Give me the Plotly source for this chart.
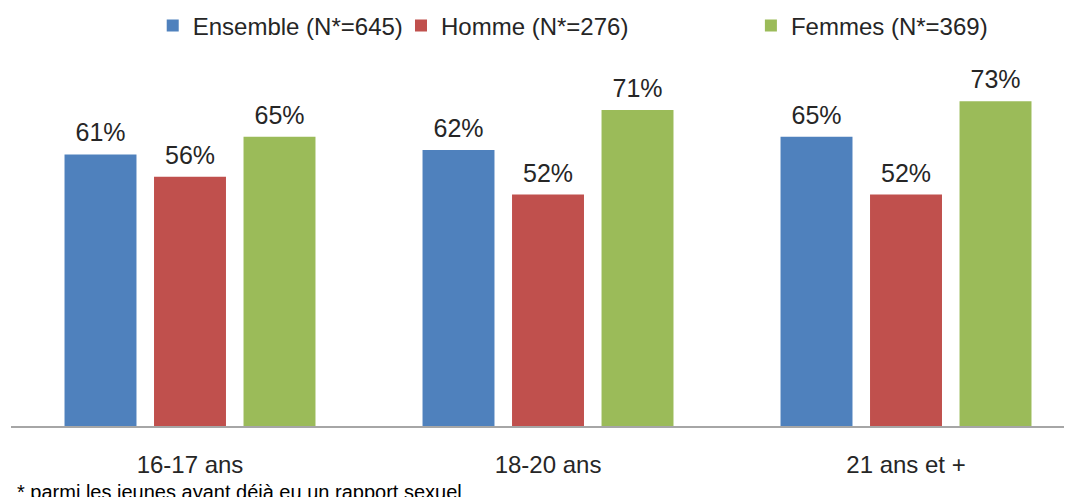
import plotly.graph_objects as go

categories = ["16-17 ans", "18-20 ans", "21 ans et +"]
series_names = ["Ensemble (N*=645)", "Homme (N*=276)", "Femmes (N*=369)"]
ensemble = [61, 62, 65]
homme = [56, 52, 52]
femmes = [65, 71, 73]
colors = ["#4F81BD", "#C0504D", "#9BBB59"]
footnote = "* parmi les jeunes ayant déjà eu un rapport sexuel"

legend_ids = ["legend", "legend2", "legend3"]
legend_x = [0.135, 0.3666, 0.693]

fig = go.Figure()
for name, vals, col, lg in zip(series_names, [ensemble, homme, femmes], colors, legend_ids):
    fig.add_trace(go.Bar(
        x=categories, y=vals, name=name, legend=lg,
        marker=dict(color=col, line=dict(width=0)),
        texttemplate="<span style='font-size:25px'>%{y}%</span><br> ",
        textposition="outside",
        textfont=dict(size=7, color="#262626", family="Liberation Sans, Arial"),
        cliponaxis=False,
    ))

layout_legends = {}
for lg, lx in zip(legend_ids, legend_x):
    layout_legends[lg] = dict(
        orientation="h", xref="container", yref="container",
        x=lx, xanchor="left", y=1 - 18 / 497, yanchor="middle",
        font=dict(size=24, color="#262626", family="Liberation Sans, Arial"),
        itemwidth=30, bgcolor="rgba(0,0,0,0)",
    )

fig.update_layout(
    width=1072, height=497,
    margin=dict(l=3, r=0, t=62, b=79),
    paper_bgcolor="white", plot_bgcolor="white",
    barmode="group", bargap=0.25, bargroupgap=0.196,
    font=dict(family="Liberation Sans, Arial", size=24, color="#262626"),
    showlegend=True,
    xaxis=dict(range=[-0.5, 2.486], showline=True, linecolor="#A6A6A6", linewidth=1.5,
               ticks="", tickfont=dict(size=24), showgrid=False, ticklabelstandoff=16),
    yaxis=dict(range=[0, 80], visible=False, showgrid=False),
    **layout_legends,
)

fig.add_annotation(text=footnote, xref="paper", yref="paper", x=0.0, y=0,
                   xanchor="left", yanchor="top", yshift=-53, xshift=4, showarrow=False,
                   font=dict(size=20, color="#000000", family="Liberation Sans, Arial"))

fig.write_html("out.html")
